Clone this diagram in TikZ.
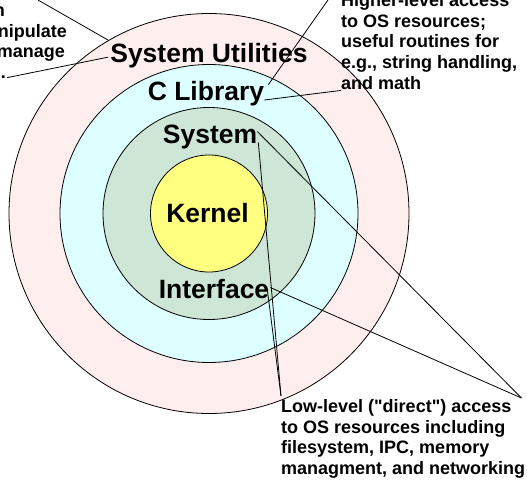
\documentclass[tikz,border=0pt]{standalone}
\usepackage{fontspec}
\setmainfont{Liberation Sans}[Ligatures=TeXOff]
\usetikzlibrary{calc}
\definecolor{ringpink}{HTML}{FFEEEE}
\definecolor{ringcyan}{HTML}{DDFFFF}
\definecolor{ringgreen}{HTML}{CDE6D5}
\definecolor{coreyellow}{HTML}{FFFF80}
\begin{document}
\begin{tikzpicture}[x=1pt,y=-1pt,
  ring/.style={draw=black, line width=0.8pt},
  layer/.style={font=\fontsize{26.5}{30}\selectfont\bfseries, inner sep=0pt, anchor=base},
  note/.style={font=\fontsize{18}{20.6}\selectfont\bfseries, inner sep=0pt, align=left, anchor=north west},
  frag/.style={font=\fontsize{18}{20.6}\selectfont\bfseries, inner sep=0pt, anchor=base east},
  leader/.style={draw=black, line width=0.8pt}]
\useasboundingbox (0,0) rectangle (527,482);

% concentric layers
\coordinate (c) at (209,213.5);
\filldraw[ring, fill=ringpink]   (c) circle[radius=200pt];
\filldraw[ring, fill=ringcyan]   (c) circle[radius=149pt];
\filldraw[ring, fill=ringgreen]  (c) circle[radius=106pt];
\filldraw[ring, fill=coreyellow] (c) circle[radius=58.5pt];

% layer names
\node[layer] (util)   at (209,62)  {System Utilities};
\node[layer] (clib)   at (206,100) {C Library};
\node[layer] (sys)    at (210,143) {System};
\node[layer] (kernel) at (207.5,222) {Kernel};
\node[layer] (iface)  at (214,298) {Interface};

% callout texts
\node[frag] (fa)  at (5,16.5)  {n};
\node[frag] (fb)  at (67,37)   {nipulate};
\node[frag] (fc)  at (65,57.5) {manage};
\node[frag] (dot) at (6,78)    {.};

\node[note] (hi) at (341,-6.6) {Higher-level access\\to OS resources;\\useful routines for\\e.g., string handling,\\and math};

\node[note] (low) at (281,399.5) {Low-level ("direct") access\\to OS resources including\\filesystem, IPC, memory\\managment, and networking};

% leader lines
\coordinate (topA) at (38,0);
\coordinate (topC) at (328,0);
\draw[leader] (topA) -- ($(util.north west)+(-2,-2.5)$);
\draw[leader] ($(dot.east)+(1,1)$) -- ($(util.west)+(-2,2)$);
\draw[leader] (topC) -- ($(clib.north east)+(4,4)$);
\draw[leader] (clib.base east) -- ($(hi.south west)+(0,1)$);
\draw[leader] ($(sys.east)+(0,-5)$) -- ($(low.north east)+(-4,-1.5)$);
\draw[leader] ($(sys.east)+(1,6)$) -- ($(low.north west)+(0,-3.5)$);
\draw[leader] ($(iface.east)+(1,-1)$) -- ($(low.north east)+(-4,-1.5)$);
\draw[leader] ($(iface.east)+(-2,2)$) -- ($(low.north west)+(0,-3.5)$);
\end{tikzpicture}
\end{document}
